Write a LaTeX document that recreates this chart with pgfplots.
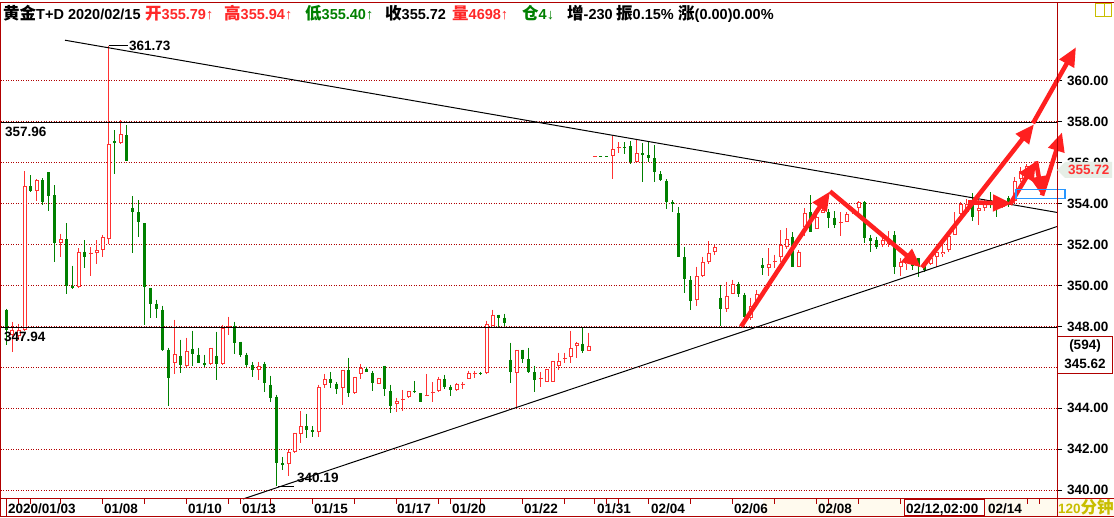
\documentclass[border=0pt]{standalone}
\usepackage{fontspec}
\setmainfont{Liberation Sans}
\newfontfamily\cjk{Noto Sans CJK SC}
\usepackage{pgfplots}
\pgfplotsset{compat=1.18}
\usepackage{pgfplotstable}
\usetikzlibrary{arrows.meta}
\definecolor{cup}{RGB}{255,50,50}
\definecolor{cdn}{RGB}{0,128,0}
\definecolor{bdr}{RGB}{176,0,0}
\definecolor{gridred}{RGB}{176,0,0}
\definecolor{arr}{RGB}{255,32,32}
\definecolor{hred}{RGB}{255,40,40}
\definecolor{olivey}{RGB}{200,190,0}
\definecolor{cream}{RGB}{255,250,238}
\definecolor{pent}{RGB}{230,238,230}
\definecolor{bluebox}{RGB}{40,150,255}
\newcommand\lbl{\fontsize{13.5}{15}\selectfont\bfseries}
\newcommand\hdr{\fontsize{14.5}{17}\selectfont\bfseries}
\newcommand\hc[1]{{\cjk\fontsize{16.5}{17}\selectfont #1}}

\pgfplotstableread{
i o h l c
1 347.59 348.23 346.76 347.84
2 347.55 348.13 347.35 347.84
3 347.84 355.58 347.79 354.84
5 354.60 355.19 354.11 355.14
9 352.10 352.54 351.41 352.25
12 349.94 351.81 349.90 351.66
14 351.56 351.86 350.48 351.61
15 351.61 352.20 351.07 351.71
16 351.71 352.49 351.41 352.35
17 352.25 361.73 352.05 356.90
19 356.95 358.07 356.90 357.39
28 346.22 348.33 345.68 346.66
30 346.08 347.45 346.03 346.81
34 346.17 346.96 346.13 346.96
36 346.17 348.08 346.13 347.94
37 347.99 348.48 347.59 348.04
42 345.88 346.27 345.39 346.08
47 341.28 342.01 340.69 341.87
48 341.87 342.80 341.82 342.80
49 342.75 343.87 342.31 343.14
52 342.84 345.15 342.60 345.05
53 345.15 345.68 345.00 345.44
56 345.00 345.88 344.17 345.88
58 344.75 345.54 344.71 345.54
59 345.68 346.17 345.44 345.98
62 345.20 345.49 345.20 345.49
65 344.22 344.51 343.82 344.36
66 344.41 344.90 343.87 344.46
67 344.56 344.85 344.51 344.85
70 344.61 345.68 344.61 344.66
71 344.75 345.29 344.31 344.80
72 344.85 345.54 344.80 345.44
75 344.90 345.24 344.85 345.20
76 345.15 345.29 344.95 345.20
77 345.44 345.83 345.44 345.73
78 345.68 345.83 345.49 345.73
80 345.73 348.28 345.68 348.13
81 348.04 348.82 348.04 348.57
85 345.73 346.86 344.07 346.86
89 345.44 345.78 345.05 345.49
90 345.29 345.93 345.29 345.93
91 345.29 346.32 345.29 346.32
92 346.08 346.71 345.88 346.32
93 346.42 346.71 346.22 346.47
94 346.52 347.79 346.22 346.96
95 347.06 347.25 346.47 347.20
97 346.81 347.69 346.81 347.06
98 356.31 356.31 356.31 356.31
101 356.31 357.29 355.19 356.65
102 356.70 357.00 356.46 356.75
105 356.02 357.10 356.02 356.46
115 349.31 350.92 349.01 350.44
116 350.48 351.41 350.39 351.17
117 351.17 352.15 351.07 351.61
118 351.66 352.00 351.51 351.90
120 348.87 350.19 348.72 349.50
121 349.60 350.29 349.60 350.09
124 348.43 349.41 348.33 349.01
125 349.26 349.80 349.21 349.60
127 350.83 351.81 350.44 351.07
128 351.17 351.51 350.83 351.22
129 351.37 352.69 351.17 352.00
130 351.90 352.79 351.76 352.25
132 350.92 351.71 350.88 351.66
133 352.88 353.77 352.44 353.52
135 352.74 353.77 352.74 353.37
136 353.52 354.30 353.52 353.67
139 353.03 353.57 352.44 353.08
140 353.08 353.57 353.08 353.47
141 353.57 353.81 353.47 353.67
142 353.81 354.11 353.37 354.06
146 352.00 352.49 351.86 352.20
147 352.05 352.64 351.86 352.20
149 350.92 351.32 350.44 351.17
150 351.07 351.37 350.78 351.17
154 351.07 351.51 351.02 351.32
155 351.41 351.76 350.88 351.66
156 351.56 352.25 351.37 351.66
157 351.71 352.49 351.66 352.44
158 352.49 353.57 352.49 352.88
159 353.47 354.06 353.37 353.96
160 353.57 354.21 353.47 353.96
162 353.62 354.21 352.98 353.77
163 353.81 354.21 353.62 354.01
166 353.86 354.16 353.81 354.01
168 354.11 355.28 354.01 355.09
169 355.19 355.77 355.04 355.58
170 355.58 355.92 355.33 355.82
}\upbars

\pgfplotstableread{
i o h l c
0 348.82 348.87 347.10 347.84
4 354.84 355.38 354.55 354.60
6 355.14 355.23 353.91 354.06
7 355.53 355.53 353.62 354.35
8 354.40 354.89 351.17 352.10
10 352.25 353.03 349.60 349.99
11 349.99 350.97 349.85 349.90
13 351.66 352.20 350.83 351.37
18 357.05 357.58 355.43 356.95
20 357.34 357.83 356.07 356.07
21 353.81 354.35 351.61 353.57
22 353.57 354.16 352.35 353.08
23 353.03 353.03 348.08 349.94
24 349.90 349.90 348.43 349.11
25 349.11 349.31 348.43 348.87
26 348.82 349.01 346.81 346.86
27 346.86 346.96 344.12 345.49
29 346.57 347.35 345.73 346.13
31 346.91 347.79 346.08 346.66
32 346.62 346.96 346.22 346.22
33 346.22 346.62 346.03 346.13
35 346.57 347.74 345.39 346.17
38 348.04 348.23 346.66 347.20
39 347.25 347.25 346.52 346.62
40 346.62 346.71 346.03 346.13
41 346.13 346.27 345.54 345.88
43 346.17 346.27 344.80 345.24
44 345.15 345.59 344.31 344.51
45 344.56 344.66 340.19 341.33
46 341.33 341.62 340.98 341.23
50 343.14 343.73 342.55 342.94
51 342.94 343.14 342.60 342.84
54 345.44 345.78 345.00 345.24
55 345.20 345.29 344.71 344.95
57 345.88 346.47 344.56 344.75
60 345.93 346.03 345.78 345.78
61 345.73 345.83 344.85 345.24
63 346.08 346.08 344.61 344.95
64 344.85 345.15 343.78 344.12
68 344.85 345.34 344.75 344.80
69 344.75 344.75 344.31 344.31
73 345.44 345.64 344.95 345.05
74 345.05 345.15 344.61 344.90
79 345.73 345.78 345.64 345.68
82 348.57 348.57 347.94 348.43
83 348.43 348.62 348.04 348.18
84 346.37 347.20 345.24 345.78
86 346.86 346.86 346.22 346.42
87 346.42 346.96 345.73 345.78
88 345.78 346.08 344.80 345.39
96 347.15 347.94 346.71 346.81
99 356.31 356.31 356.31 356.31
100 356.31 356.31 356.31 356.31
103 356.75 357.00 356.41 356.70
104 356.80 357.05 355.92 356.02
106 356.46 356.95 355.04 356.36
107 356.36 357.05 356.02 356.21
108 356.21 356.85 355.04 355.53
109 355.43 355.58 355.09 355.14
110 355.09 355.19 353.72 354.06
111 354.06 354.16 353.57 353.96
112 353.52 353.86 351.37 351.41
113 351.37 351.90 349.65 350.34
114 350.29 350.44 348.82 349.26
119 349.41 350.04 348.04 348.87
122 350.09 350.19 349.46 349.60
123 349.55 349.65 348.43 348.48
126 351.02 351.32 350.53 350.83
131 352.39 352.59 350.92 350.92
134 353.57 354.40 352.59 352.59
137 353.57 353.72 352.79 353.32
138 353.32 353.62 352.79 352.98
143 354.06 354.11 352.10 352.30
144 352.30 352.49 351.66 352.15
145 352.20 352.39 351.76 351.86
148 352.49 352.64 350.58 350.92
151 351.17 351.37 350.78 350.97
152 351.32 351.32 350.39 351.02
153 350.97 351.12 350.68 350.78
161 353.96 354.50 353.13 353.37
164 354.16 354.55 353.81 354.01
165 354.01 354.11 353.37 353.72
167 354.30 354.35 353.86 354.01
171 355.79 355.94 355.40 355.72
}\downbars

\pgfplotsset{
  ebar/.style 2 args={draw=none, mark=none, forget plot,
    error bars/.cd, y dir=minus, y explicit, error mark=none,
    error bar style={draw=#1, line width=#2, line cap=butt, solid}},
}
\tikzset{bigarrow/.style={draw=arr, line width=4.5pt, -{Triangle[length=19pt,width=16pt]}}}

\begin{document}
\begin{tikzpicture}[x=1pt,y=1pt]
\useasboundingbox (0,0) rectangle (1114,518);
\fill[white] (0,0) rectangle (1114,518);
\fill[cream] (763,1) rectangle (1114,19);
\filldraw[fill=white, draw=bdr, line width=1pt] (904,2) rectangle (984,18);
\begin{axis}[
  at={(1pt,19pt)}, anchor=south west,
  scale only axis, width=1056pt, height=496pt,
  xmin=-0.9167, xmax=175.0833, ymin=339.56, ymax=363.81,
  clip=false,
  axis line style={draw=bdr, line width=1pt},
  ytick={340,342,...,360},
  yticklabels={340.00,342.00,344.00,{},348.00,350.00,352.00,354.00,356.00,358.00,360.00},
  ymajorgrids,
  major grid style={draw=gridred, dash pattern=on 1pt off 1.5pt, line width=0.9pt},
  ytick pos=right, yticklabel pos=right,
  xtick={2.08,3.92,9.08,15.92,22.92,29.92,37.08,38.92,43.92,50.92,57.92,64.92,72.08,74.08,78.92,85.92,93.08,98.08,99.92,102.08,107.08,114.08,121.08,128.08,135.08,137.08,142.08,149.08,170.08,172.08},
  xticklabels={},
  xtick pos=bottom,
  tick align=outside, major tick length=5pt,
  y tick style={black, line width=0.9pt},
  x tick style={bdr, line width=1pt},
  yticklabel style={font=\lbl, anchor=west, inner sep=0pt, xshift=5pt},
]
\addplot[ebar={cdn}{1pt}] table[x=i, y=h, y error minus expr={\thisrow{h}-\thisrow{l}}] {\downbars};
\addplot[ebar={cdn}{3.6pt}] table[x=i, y=o, y error minus expr={max(\thisrow{o}-\thisrow{c},0.04)}] {\downbars};
\addplot[ebar={cup}{1pt}] table[x=i, y=h, y error minus expr={\thisrow{h}-\thisrow{l}}] {\upbars};
\addplot[ebar={cup}{4pt}] table[x=i, y=c, y error minus expr={max(\thisrow{c}-\thisrow{o},0.04)}] {\upbars};
\addplot[ebar={white}{2pt}] table[x=i, y expr={\thisrow{c}-0.049}, y error minus expr={max(\thisrow{c}-\thisrow{o}-0.098,0)}] {\upbars};
\addplot[black, line width=1pt] coordinates {(9.75,361.99) (175.08,353.57)};
\addplot[black, line width=1pt] coordinates {(39.42,339.56) (175.08,352.88)};
\addplot[black, line width=1pt] coordinates {(-0.92,357.96) (175.08,357.96)};
\addplot[black, line width=1pt] coordinates {(-0.92,347.94) (175.08,347.94)};
\addplot[black, line width=1pt] coordinates {(17,361.73) (20.25,361.73)};
\addplot[black, line width=1pt] coordinates {(45.25,340.19) (47.92,340.19)};
\node[anchor=west, inner sep=0pt, font=\lbl] at (axis cs:-0.25,357.53) {357.96};
\node[anchor=west, inner sep=0pt, font=\lbl] at (axis cs:-0.42,347.47) {347.94};
\node[anchor=west, inner sep=0pt, font=\lbl] at (axis cs:20.4,361.70) {361.73};
\node[anchor=west, inner sep=0pt, font=\lbl] at (axis cs:48.42,340.59) {340.19};
\draw[bigarrow] (axis cs:122.42,347.99) -- (axis cs:137.25,354.60);
\draw[bigarrow] (axis cs:137.25,354.60) -- (axis cs:152.42,350.88);
\draw[bigarrow] (axis cs:152.58,350.88) -- (axis cs:171.25,357.88);
\draw[bigarrow] (axis cs:171.08,357.93) -- (axis cs:178.25,361.65);
\draw[bigarrow] (axis cs:160.25,354.06) -- (axis cs:167.58,354.01);
\draw[bigarrow] (axis cs:167.25,353.96) -- (axis cs:171.58,356.07);
\draw[bigarrow] (axis cs:171.58,356.07) -- (axis cs:172.58,354.40);
\draw[bigarrow] (axis cs:172.58,354.40) -- (axis cs:175.92,357.49);
\draw[bluebox, line width=1.2pt] (axis cs:168.25,354.70) rectangle (axis cs:176.42,354.25);
\end{axis}
\draw[bdr, line width=1pt] (0,515) -- (1114,515);
\draw[bdr, line width=1pt] (0,19) -- (1114,19);
\draw[bdr, line width=1pt] (0,1) -- (1114,1);
\draw[bdr, line width=1pt] (0.5,1) -- (0.5,515);
\draw[bdr, line width=1pt] (1057,1) -- (1057,515);
\draw[bdr, line width=1pt] (6,1) -- (6,19);
\fill[pent] (1057,348) -- (1065,356) -- (1112,356) -- (1112,340) -- (1065,340) -- cycle;
\node[anchor=west, inner sep=0pt, font=\lbl, text=cup] at (1068,348) {355.72};
\filldraw[fill=white, draw=bdr, line width=1pt] (1057,144) rectangle (1112,181);
\node[inner sep=0pt, font=\lbl] at (1085,172) {(594)};
\node[inner sep=0pt, font=\lbl] at (1085,154) {345.62};
\draw[olivey, line width=1pt] (1095,501) rectangle (1111,514);
\draw[olivey, line width=1pt] (1104,501) -- (1104,514);
\node[anchor=base west, inner sep=0pt, text=olivey, font=\lbl] at (1058,4) {120\hc{分钟}};
\node[anchor=base west, inner sep=0pt, font=\hdr] at (3,498) {\hc{黄金}T+D 2020/02/15};
\node[anchor=base west, inner sep=0pt, font=\hdr, text=hred] at (145,498) {\hc{开}355.79↑};
\node[anchor=base west, inner sep=0pt, font=\hdr, text=hred] at (224,498) {\hc{高}355.94↑};
\node[anchor=base west, inner sep=0pt, font=\hdr, text=cdn] at (305,498) {\hc{低}355.40↑};
\node[anchor=base west, inner sep=0pt, font=\hdr] at (385,498) {\hc{收}355.72};
\node[anchor=base west, inner sep=0pt, font=\hdr, text=hred] at (452,498) {\hc{量}4698↑};
\node[anchor=base west, inner sep=0pt, font=\hdr, text=cdn] at (522,498) {\hc{仓}4↓};
\node[anchor=base west, inner sep=0pt, font=\hdr] at (567,498) {\hc{增}-230};
\node[anchor=base west, inner sep=0pt, font=\hdr] at (616,498) {\hc{振}0.15\%};
\node[anchor=base west, inner sep=0pt, font=\hdr] at (678,498) {\hc{涨}(0.00)0.00\%};
\foreach \xx/\lab in {8/{2020/01/03},104/{01/08},188/{01/10},242/{01/13},314/{01/15},397/{01/17},452/{01/20},524/{01/22},597/{01/31},651/{02/04},734/{02/06},818/{02/08},906/{02/12,02:00},988/{02/14}}
  \node[anchor=base west, inner sep=0pt, font=\lbl] at (\xx,4) {\lab};
\end{tikzpicture}
\end{document}
